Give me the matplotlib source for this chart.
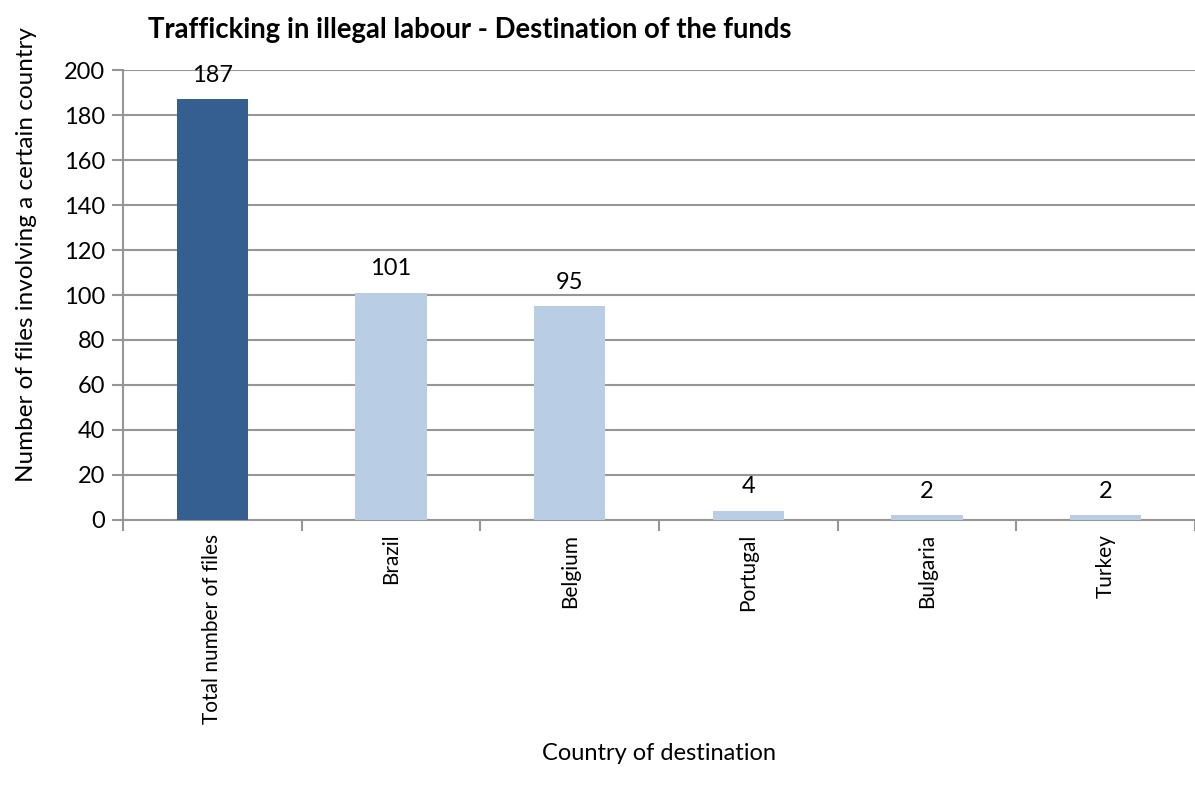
import matplotlib.pyplot as plt
import numpy as np

categories = ["Total number of files", "Brazil", "Belgium", "Portugal", "Bulgaria", "Turkey"]
values = [187, 101, 95, 4, 2, 2]
bar_colors = ["#355f91", "#b9cde5", "#b9cde5", "#b9cde5", "#b9cde5", "#b9cde5"]

GRID = "#969696"
plt.rcParams["font.family"] = ["Lato", "DejaVu Sans"]

figure = plt.figure(figsize=(11.95, 7.85), dpi=100)
axes = figure.add_axes([0.103, 0.3376, 0.897, 0.5732])

x = np.arange(len(categories))
axes.bar(x, values, width=0.4, color=bar_colors, zorder=3)

for xi, v in zip(x, values):
    axes.text(xi, v + 6, str(v), ha="center", va="bottom", fontsize=17)

axes.set_xlim(-0.5, len(categories) - 0.5)
axes.set_ylim(0, 200)
axes.set_yticks(range(0, 201, 20))
axes.set_xticks(np.arange(-0.5, len(categories), 1.0), minor=False)
axes.set_xticklabels([])
axes.set_xticks(x, minor=True)
axes.set_xticklabels(categories, minor=True, rotation=90, fontsize=15)
axes.tick_params(axis="x", which="minor", length=0, pad=10)
axes.tick_params(axis="x", which="major", length=8, color=GRID, width=1.5,
                 direction="out")
axes.tick_params(axis="y", length=8, color=GRID, width=1.5, direction="out",
                 labelsize=17, pad=5)

axes.grid(axis="y", color=GRID, linewidth=1.5, zorder=0)
for side in ["top", "right"]:
    axes.spines[side].set_visible(False)
for side in ["left", "bottom"]:
    axes.spines[side].set_color(GRID)
    axes.spines[side].set_linewidth(1.5)

axes.set_ylabel("Number of files involving a certain country", fontsize=17.5)
axes.yaxis.set_label_coords(-0.080, 0.589)
axes.set_xlabel("Country of destination", fontsize=17, labelpad=14)
figure.text(0.124, 0.962, "Trafficking in illegal labour - Destination of the funds",
            fontsize=19.8, fontweight="bold", va="center")

figure.savefig("out.png", dpi=100)
